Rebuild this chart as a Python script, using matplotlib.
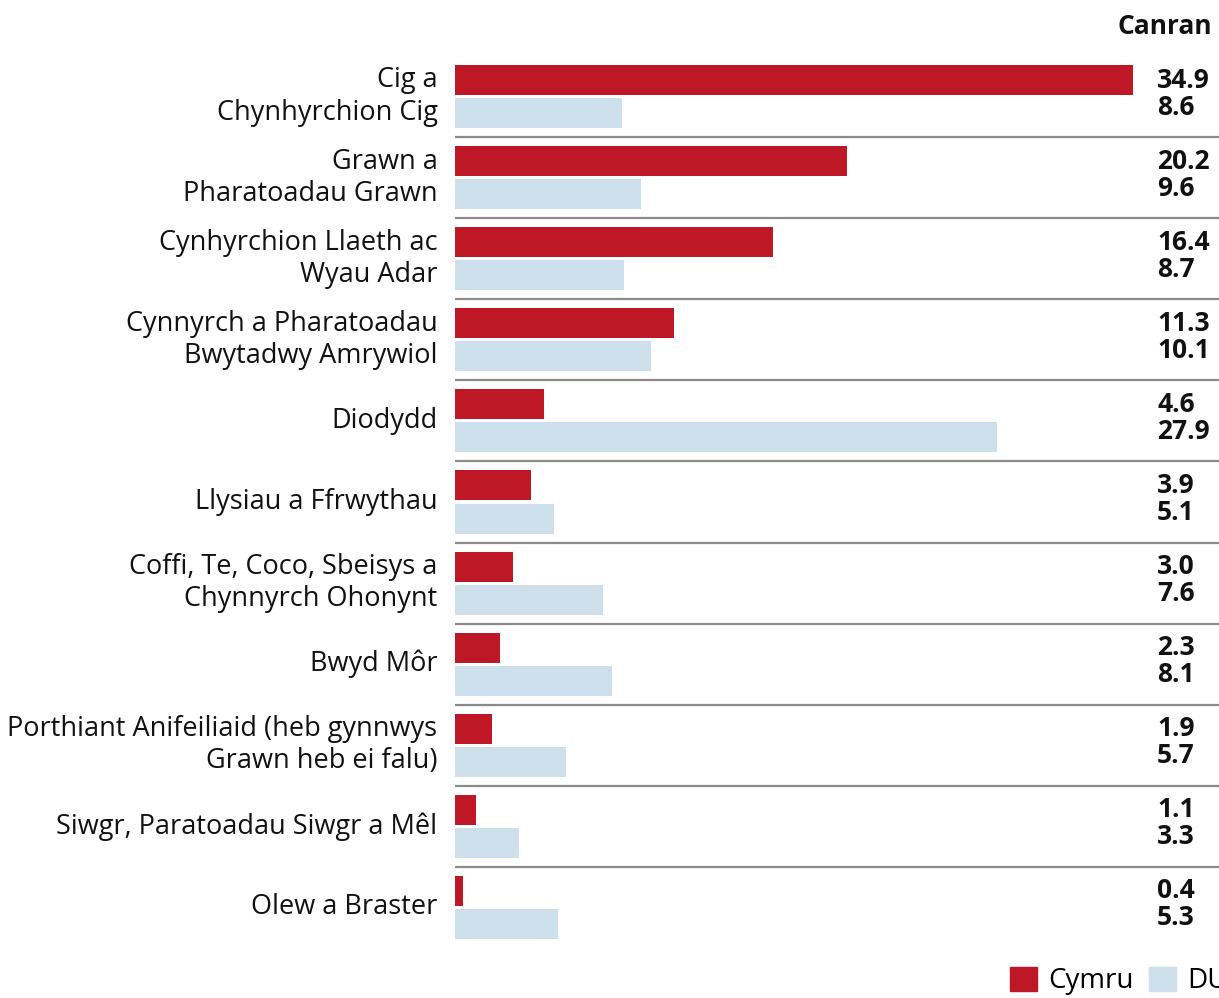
import matplotlib
matplotlib.use('Agg')
import matplotlib.pyplot as plt
from matplotlib.patches import Patch
import numpy as np

plt.rcParams['font.family'] = ['Open Sans', 'DejaVu Sans']

categories = ['Cig a\nChynhyrchion Cig',
              'Grawn a\nPharatoadau Grawn',
              'Cynhyrchion Llaeth ac\nWyau Adar',
              'Cynnyrch a Pharatoadau\nBwytadwy Amrywiol',
              'Diodydd',
              'Llysiau a Ffrwythau',
              'Coffi, Te, Coco, Sbeisys a\nChynnyrch Ohonynt',
              'Bwyd Môr',
              'Porthiant Anifeiliaid (heb gynnwys\nGrawn heb ei falu)',
              'Siwgr, Paratoadau Siwgr a Mêl',
              'Olew a Braster']
cymru = [34.9, 20.2, 16.4, 11.3, 4.6, 3.9, 3.0, 2.3, 1.9, 1.1, 0.4]
du = [8.6, 9.6, 8.7, 10.1, 27.9, 5.1, 7.6, 8.1, 5.7, 3.3, 5.3]

red = '#be1826'
blue = '#cddfeb'

fig = plt.figure(figsize=(12.19, 9.98), dpi=100)
ax = fig.add_axes([455/1219, 1 - 948/998, 1 - 455/1219, (948 - 56)/998])

y = np.arange(len(categories))
h = 0.37
ax.barh(y + 0.296, cymru, height=h, color=red)
ax.barh(y + 0.704, du, height=h, color=blue)

for i in range(1, len(categories)):
    ax.axhline(i, color='#8a8a8a', lw=1.6)

for i, lab in enumerate(categories):
    ax.text(-0.9, i + 0.5, lab, ha='right', va='center', fontsize=19.5,
            linespacing=1.2, color='#111111')
    ax.text(36.15, i + 0.296, f'{cymru[i]:.1f}', ha='left', va='center',
            fontsize=19, fontweight='bold', color='#111111')
    ax.text(36.15, i + 0.63, f'{du[i]:.1f}', ha='left', va='center',
            fontsize=19, fontweight='bold', color='#111111')

ax.set_xlim(0, 764/19.42)
ax.set_ylim(len(categories), 0)
ax.axis('off')

fig.text(1212/1219, 1 - 27/998, 'Canran', ha='right', va='center',
         fontsize=19, fontweight='bold', color='#111111')

handles = [Patch(color=red), Patch(color=blue)]
fig.legend(handles, ['Cymru', 'DU'], loc='center left',
           bbox_to_anchor=(1010/1219, 1 - 981/998), ncol=2, frameon=False,
           fontsize=20, handlelength=0.97, handleheight=0.97,
           columnspacing=0.55, handletextpad=0.4,
           borderpad=0, borderaxespad=0)

fig.savefig('out.png', dpi=100)
